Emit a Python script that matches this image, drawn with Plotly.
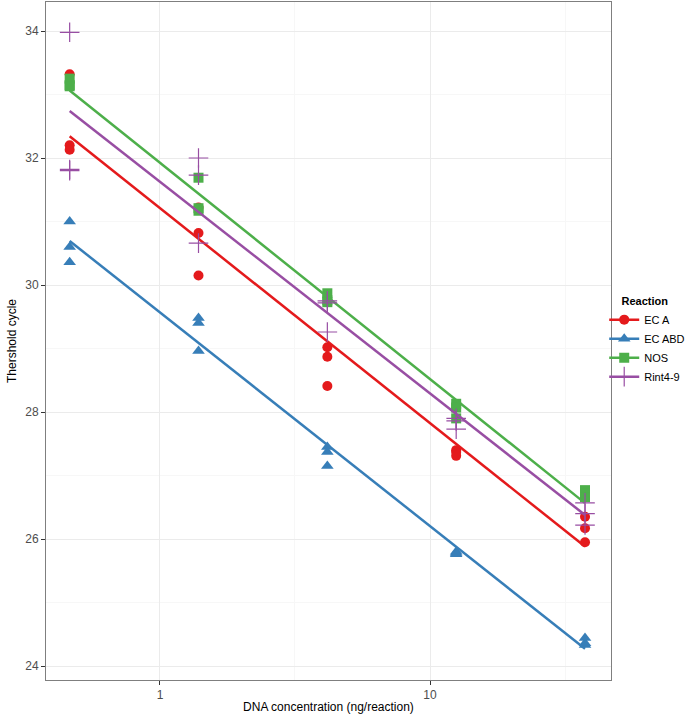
import numpy as np
import plotly.graph_objects as go

conc = [0.463, 1.389, 4.167, 12.5, 37.5]

reactions = ["EC A", "EC ABD", "NOS", "Rint4-9"]

ec_a = [[33.32, 32.20, 32.13], [31.22, 30.82, 30.15], [29.02, 28.87, 28.41],
        [27.40, 27.37, 27.31], [26.35, 26.17, 25.95]]
ec_abd = [[31.00, 30.60, 30.36], [29.48, 29.40, 28.96], [27.45, 27.37, 27.15],
          [25.80, 25.78, 25.76], [24.44, 24.36, 24.33]]
nos = [[33.25, 33.15, 33.13], [31.69, 31.21, 31.17], [29.87, 29.76, 29.73],
       [28.13, 28.07, 27.90], [26.77, 26.72, 26.66]]
rint = [[33.98, 31.82, 31.80], [32.00, 31.73, 30.66], [29.75, 29.72, 29.26],
        [27.90, 27.86, 27.73], [26.57, 26.40, 26.22]]

series = [ec_a, ec_abd, nos, rint]
colors = ["#E41A1C", "#377EB8", "#4DAF4A", "#984EA3"]
symbols = ["circle", "triangle-up", "square", "cross-thin"]
sizes = [10, 11, 10, 14]

fig = go.Figure()

for name, vals, col, sym, sz in zip(reactions, series, colors, symbols, sizes):
    xs, ys = [], []
    for c, reps in zip(conc, vals):
        for v in reps:
            xs.append(c)
            ys.append(v)
    xs = np.array(xs)
    ys = np.array(ys)
    slope, icpt = np.polyfit(np.log10(xs), ys, 1)
    lx = np.array([min(conc), max(conc)])
    ly = slope * np.log10(lx) + icpt
    if sym == "cross-thin":
        mk = dict(symbol=sym, size=sz, color=col, line=dict(color=col, width=1.2))
    else:
        mk = dict(symbol=sym, size=sz, color=col, line=dict(width=0))
    fig.add_trace(go.Scatter(x=xs, y=ys, mode="markers", marker=mk,
                             showlegend=False, hoverinfo="x+y"))
    fig.add_trace(go.Scatter(x=lx, y=ly, mode="lines", line=dict(color=col, width=2.5),
                             showlegend=False, hoverinfo="skip"))
    fig.add_trace(go.Scatter(x=[None], y=[None], mode="lines+markers", name=name,
                             marker=mk, line=dict(color=col, width=2.5)))

fig.update_layout(
    width=685, height=714,
    margin=dict(l=46, r=74, t=2, b=34, autoexpand=False),
    paper_bgcolor="white", plot_bgcolor="white",
    font=dict(family="Liberation Sans, Arial, sans-serif", size=12, color="black"),
    legend=dict(title=dict(text="&nbsp;&nbsp;&nbsp;&nbsp;&nbsp;<b>Reaction</b>", font=dict(size=11)),
                font=dict(size=11), x=0.988, xanchor="left", y=0.574, yanchor="top",
                tracegroupgap=0, itemwidth=30, bgcolor="rgba(0,0,0,0)"),
    xaxis=dict(type="log", range=[np.log10(0.3784), np.log10(46.8)],
               tickvals=[1, 10], ticktext=["1", "10"], automargin=False,
               ticks="outside", ticklen=4, tickcolor="#333333",
               tickfont=dict(size=12, color="#4D4D4D"),
               showgrid=True, gridcolor="#EBEBEB", gridwidth=1,
               minor=dict(tickvals=[3.1623, 31.623], showgrid=True, gridcolor="#F7F7F7", ticks=""),
               showline=True, linecolor="#7F7F7F", linewidth=1, mirror=True, zeroline=False,
               title=dict(text="DNA concentration (ng/reaction)", font=dict(size=12), standoff=1)),
    yaxis=dict(range=[23.78, 34.457], tickvals=[24, 26, 28, 30, 32, 34], automargin=False,
               ticks="outside", ticklen=4, tickcolor="#333333",
               tickfont=dict(size=12, color="#4D4D4D"),
               showgrid=True, gridcolor="#EBEBEB", gridwidth=1,
               minor=dict(tickvals=[25, 27, 29, 31, 33], showgrid=True, gridcolor="#F7F7F7", ticks=""),
               showline=True, linecolor="#7F7F7F", linewidth=1, mirror=True, zeroline=False,
               title=dict(text="Thershold cycle", font=dict(size=12), standoff=6)),
)

fig.write_html("out.html", config={"displayModeBar": False},
               post_script="document.body.style.margin='0px';")
